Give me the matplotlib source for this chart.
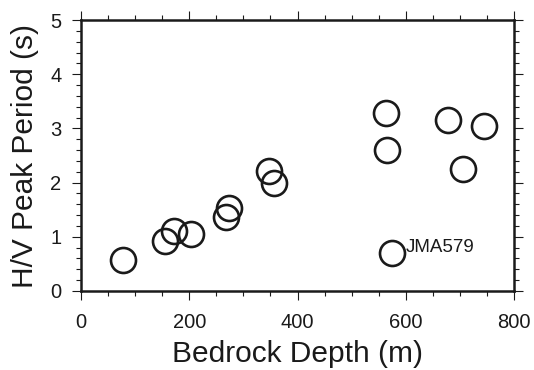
import numpy as np
import matplotlib
matplotlib.use('Agg')
import matplotlib.pyplot as plt
from matplotlib.ticker import MultipleLocator

# bedrock depth (m) vs H/V peak period (s)
depth = [77, 155, 172, 203, 268, 274, 348, 356, 563, 566, 678, 744, 706, 575]
period = [0.58, 0.93, 1.10, 1.05, 1.36, 1.54, 2.22, 1.99, 3.28, 2.61, 3.16, 3.04, 2.25, 0.70]
label_name = 'JMA579'
label_pos = (600, 0.80)

plt.rcParams['font.family'] = ['Liberation Sans', 'DejaVu Sans']

fig = plt.figure(figsize=(5.34, 3.70), dpi=100)
ax = fig.add_axes([81 / 534, 1 - 291 / 370, 433 / 534, 271 / 370])

ax.plot(depth, period, 'o', ms=18, mfc='none', mec='#1a1a1a', mew=1.9, clip_on=False)
ax.text(label_pos[0], label_pos[1], label_name, fontsize=13.5, va='center', ha='left', color='#1a1a1a')

ax.set_xlim(0, 800)
ax.set_ylim(0, 5)
ax.xaxis.set_major_locator(MultipleLocator(200))
ax.xaxis.set_minor_locator(MultipleLocator(50))
ax.yaxis.set_major_locator(MultipleLocator(1))
ax.yaxis.set_minor_locator(MultipleLocator(0.2))
ax.tick_params(which='both', direction='out', top=True, right=True, width=0.8, color='#1a1a1a')
ax.tick_params(which='major', length=6.5, labelsize=14.5, labelcolor='#1a1a1a')
ax.tick_params(which='minor', length=3.6)
ax.tick_params(axis='x', which='major', pad=9)
ax.tick_params(axis='y', which='major', pad=7.5)
for s in ax.spines.values():
    s.set_linewidth(1.8)
    s.set_color('#1a1a1a')

ax.set_xlabel('Bedrock Depth (m)', fontsize=21.5, color='#1a1a1a', labelpad=6)
ax.set_ylabel('H/V Peak Period (s)', fontsize=21.5, color='#1a1a1a', labelpad=8)

fig.savefig('out.png', dpi=100)
